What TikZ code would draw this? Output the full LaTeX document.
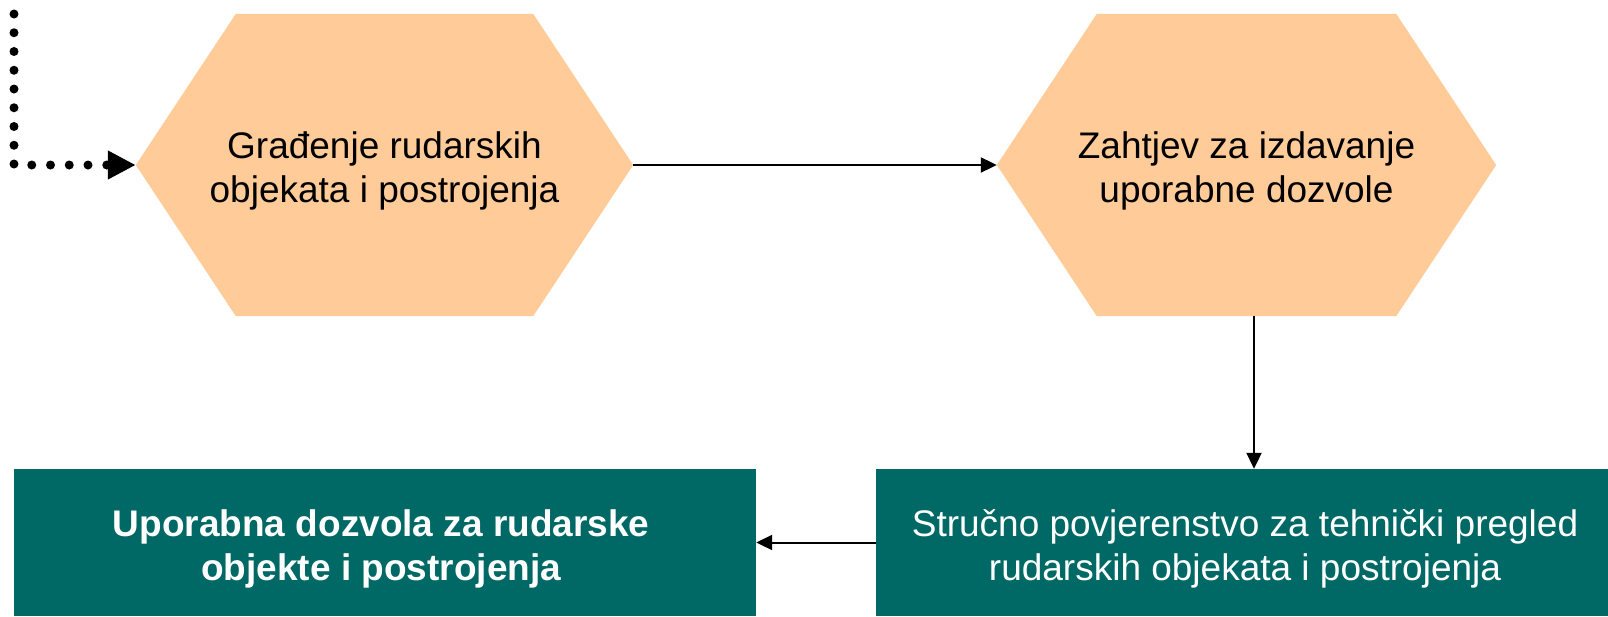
\documentclass[tikz,border=0pt]{standalone}
\usepackage{fontspec}
\setmainfont{Liberation Sans}
\usetikzlibrary{arrows.meta,backgrounds}
\definecolor{peach}{HTML}{FFCC99}
\definecolor{teal}{HTML}{006966}
\begin{document}
\begin{tikzpicture}[x=1pt,y=-1pt,
  hexnode/.style={rectangle,minimum height=302pt,inner sep=0pt,align=center,
    font=\fontsize{37}{44}\selectfont},
  boxnode/.style={rectangle,fill=teal,text=white,minimum height=147pt,inner sep=0pt,align=center,
    font=\fontsize{37}{44}\selectfont},
  lowtext/.style={inner sep=0pt,align=center,font=\fontsize{37}{44}\selectfont},
  thinarrow/.style={line width=2pt,-{Triangle[length=16pt,width=15pt]}},
  dotarrow/.style={line width=9pt,dash pattern=on 0pt off 18.75pt,line cap=round,
    -{Triangle[length=28pt,width=27pt]}}]
\useasboundingbox (0,0) rectangle (1608,616);
\node[hexnode,minimum width=497pt] (hex1) at (384.5,165) {};
\node[hexnode,minimum width=499pt] (hex2) at (1246.5,165) {};
\begin{scope}[on background layer]
\foreach \h in {hex1,hex2}{
  \fill[peach] (\h.west) -- ([xshift=100pt]\h.north west) -- ([xshift=-100pt]\h.north east)
    -- (\h.east) -- ([xshift=-100pt]\h.south east) -- ([xshift=100pt]\h.south west) -- cycle;
}
\end{scope}
\node[lowtext] (t1) at ([yshift=-6pt]hex1.center) {Građenje rudarskih\\objekata i postrojenja};
\node[lowtext] (t2) at ([yshift=-6pt]hex2.center) {Zahtjev za izdavanje\\uporabne dozvole};
\node[boxnode,minimum width=741.6pt] (box1) at (385.2,542.5) {};
\node[boxnode,minimum width=732pt] (box2) at (1242,542.5) {};
\node[lowtext,text=white] (t3) at ([xshift=-4pt,yshift=-6pt]box1.center) {\bfseries Uporabna dozvola za rudarske\\\bfseries objekte i postrojenja};
\node[lowtext,text=white] (t4) at ([xshift=3pt,yshift=-6pt]box2.center) {Stručno povjerenstvo za tehnički pregled\\rudarskih objekata i postrojenja};
\coordinate (dstart) at (14,14);
\draw[dotarrow] (dstart) |- (hex1.west);
\draw[thinarrow] (hex1.east) -- (hex2.west);
\draw[thinarrow] ([xshift=7.5pt]hex2.south) -- ([xshift=7.5pt]hex2.south |- box2.north);
\draw[thinarrow] (box2.west) -- (box1.east);
\end{tikzpicture}
\end{document}
